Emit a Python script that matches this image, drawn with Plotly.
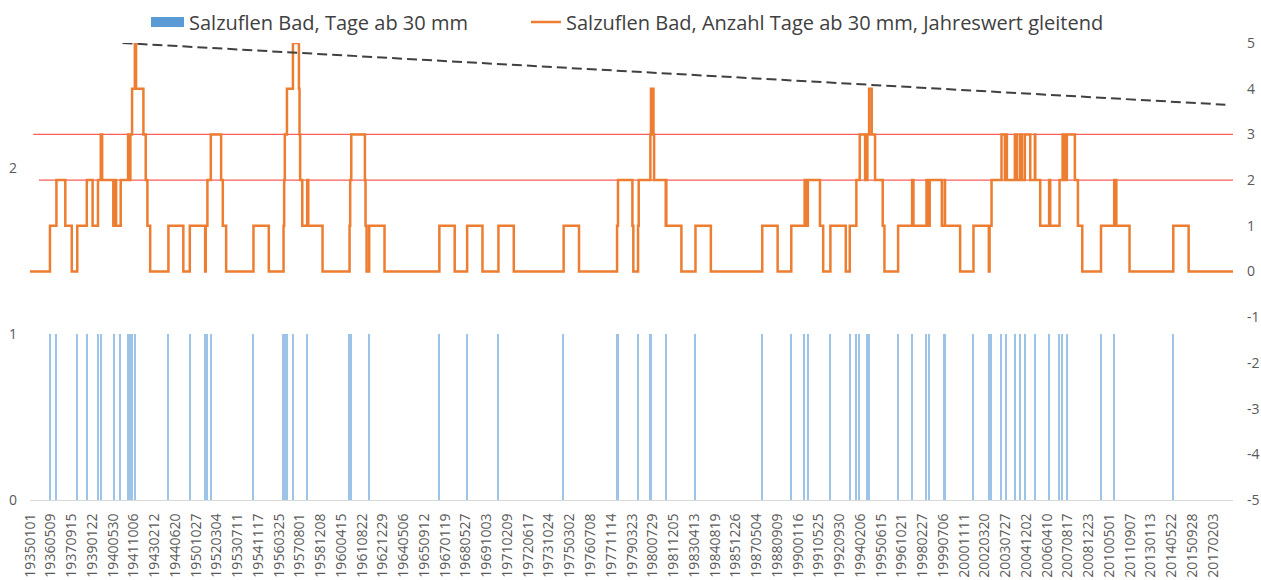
import plotly.graph_objects as go
import pandas as pd

# ---------------- data ----------------
tick_labels = [
    "19350101", "19360509", "19370915", "19390122", "19400530", "19411006", "19430212", "19440620",
    "19501027", "19520304", "19530711", "19541117", "19560325", "19570801", "19581208", "19600415",
    "19610822", "19621229", "19640506", "19650912", "19670119", "19680527", "19691003", "19710209",
    "19720617", "19731024", "19750302", "19760708", "19771114", "19790323", "19800729", "19811205",
    "19830413", "19840819", "19851226", "19870504", "19880909", "19900116", "19910525", "19920930",
    "19940206", "19950615", "19961021", "19980227", "19990706", "20001111", "20020320", "20030727",
    "20041202", "20060410", "20070817", "20081223", "20100501", "20110907", "20130113", "20140522",
    "20150928", "20170203",
]

# blue bars: days with >= 30 mm (decimal years)
event_years = [
    1936.30, 1936.72, 1938.08, 1938.70, 1939.43, 1939.61, 1940.52, 1940.91, 1941.39, 1941.54,
    1941.65, 1941.83, 1944.02,
    1950.41, 1951.45, 1951.56, 1951.78, 1954.56, 1956.52, 1956.56, 1956.60, 1956.74, 1957.13,
    1958.06, 1960.82, 1960.86, 1960.93, 1962.10, 1966.67, 1968.48, 1970.52, 1974.77, 1978.25,
    1978.31, 1979.62, 1979.66, 1980.42, 1980.46, 1981.44, 1983.36, 1987.71, 1989.60, 1990.47,
    1990.68, 1992.15, 1993.41, 1993.84, 1994.06, 1994.56, 1994.67, 1996.56, 1997.47, 1998.41,
    1998.62, 1999.60, 2001.47, 2002.52, 2002.65, 2003.30, 2003.63, 2004.17, 2004.50, 2004.82,
    2005.47, 2006.40, 2007.08, 2007.28, 2007.56, 2009.78, 2010.64, 2014.49,
]
event_values = [1] * len(event_years)

# orange step line: moving annual count, change points (decimal year, new level)
line_years = [
    1935.00, 1936.30, 1936.72, 1937.30, 1937.72, 1938.08, 1938.70, 1939.08, 1939.43, 1939.61,
    1939.70, 1940.43, 1940.52, 1940.61, 1940.91, 1941.39, 1941.52, 1941.54, 1941.65, 1941.83,
    1941.91, 1942.39, 1942.54, 1942.65, 1942.83, 1944.02, 1944.99,
    1950.41, 1951.41, 1951.45, 1951.56, 1951.78, 1952.45, 1952.56, 1952.78, 1954.56, 1955.56,
    1956.52, 1956.56, 1956.60, 1956.74, 1957.13, 1957.52, 1957.56, 1957.60, 1957.74, 1958.06,
    1958.13, 1959.06, 1960.82, 1960.86, 1960.93, 1961.82, 1961.86, 1961.93, 1962.10, 1963.10,
    1966.67, 1967.67, 1968.48, 1969.48, 1970.52, 1971.52, 1974.77, 1975.77, 1978.25, 1978.31,
    1979.25, 1979.31, 1979.62, 1979.66, 1980.42, 1980.46, 1980.62, 1980.66, 1981.42, 1981.44,
    1981.46, 1982.44, 1983.36, 1984.36, 1987.71, 1988.71, 1989.60, 1990.47, 1990.60, 1990.68,
    1991.47, 1991.68, 1992.15, 1993.15, 1993.41, 1993.84, 1994.06, 1994.41, 1994.56, 1994.67,
    1994.84, 1995.06, 1995.56, 1995.67, 1996.56, 1997.47, 1997.56, 1998.41, 1998.47, 1998.62,
    1999.41, 1999.60, 1999.62, 2000.60, 2001.47, 2002.47, 2002.52, 2002.65, 2003.30, 2003.52,
    2003.63, 2003.65, 2004.17, 2004.30, 2004.50, 2004.63, 2004.82, 2005.17, 2005.47, 2005.50,
    2005.82, 2006.40, 2006.47, 2007.08, 2007.28, 2007.40, 2007.56, 2008.08, 2008.28, 2008.56,
    2009.78, 2010.64, 2010.78, 2011.64, 2014.49, 2015.49,
]
line_levels = [
    0, 1, 2, 1, 0, 1, 2, 1, 2, 3,
    2, 1, 2, 1, 2, 3, 2, 3, 4, 5,
    4, 3, 2, 1, 0, 1, 0,
    1, 0, 1, 2, 3, 2, 1, 0, 1, 0,
    1, 2, 3, 4, 5, 4, 3, 2, 1, 2,
    1, 0, 1, 2, 3, 2, 1, 0, 1, 0,
    1, 0, 1, 0, 1, 0, 1, 0, 1, 2,
    1, 0, 1, 2, 3, 4, 3, 2, 1, 2,
    1, 0, 1, 0, 1, 0, 1, 2, 1, 2,
    1, 0, 1, 0, 1, 2, 3, 2, 3, 4,
    3, 2, 1, 0, 1, 2, 1, 2, 1, 2,
    1, 2, 1, 0, 1, 0, 1, 2, 3, 2,
    3, 2, 3, 2, 3, 2, 3, 2, 3, 2,
    1, 2, 1, 2, 3, 2, 3, 2, 1, 0,
    1, 2, 1, 0, 1, 0,
]

data_start = "1935-01-01"
data_end = "2018-05-20"
gap_start, gap_end = "1945-01-01", "1950-01-01"

threshold_levels = [3, 2]
threshold_starts = ["1935-03-20", "1935-08-01"]

trend_dates = ["1941-01-10", "2017-11-20"]
trend_values = [5.0, 3.65]

left_ticks = [0, 1, 2]
right_ticks = [-5, -4, -3, -2, -1, 0, 1, 2, 3, 4, 5]

bar_name = "Salzuflen Bad, Tage ab 30 mm"
line_name = "Salzuflen Bad, Anzahl Tage ab 30 mm, Jahreswert gleitend"


def to_date(y):
    year = int(y)
    base = pd.Timestamp(year=year, month=1, day=1)
    n = (pd.Timestamp(year=year + 1, month=1, day=1) - base).days
    return base + pd.Timedelta(days=int(round((y - year) * n)))


event_dates = [to_date(y) for y in event_years]
line_x = [to_date(y) for y in line_years] + [pd.Timestamp(data_end)]
line_y = list(line_levels) + [line_levels[-1]]
tick_dates = [pd.to_datetime(t, format="%Y%m%d") for t in tick_labels]

fig = go.Figure()

fig.add_trace(go.Bar(
    x=event_dates, y=event_values, width=36 * 86400000,
    marker=dict(color="#9DC3E6", line=dict(width=0)),
    showlegend=False, name=bar_name, yaxis="y",
))
# legend swatch for the bars
fig.add_trace(go.Scatter(
    x=[None], y=[None], mode="lines", line=dict(color="#5B9BD5", width=14),
    name=bar_name, legend="legend",
))

for lv, st in zip(threshold_levels, threshold_starts):
    fig.add_trace(go.Scatter(
        x=[st, data_end], y=[lv, lv], mode="lines",
        line=dict(color="rgba(255,40,40,0.75)", width=1.2),
        showlegend=False, yaxis="y2", hoverinfo="skip",
    ))

fig.add_trace(go.Scatter(
    x=line_x, y=line_y, mode="lines", line=dict(color="#ED7D31", width=2.5, shape="hv"),
    name=line_name, yaxis="y2", legend="legend2",
))

fig.add_trace(go.Scatter(
    x=trend_dates, y=trend_values, mode="lines",
    line=dict(color="#404040", width=2, dash="10px,5px"),
    showlegend=False, yaxis="y2", hoverinfo="skip",
))

font_family = "Open Sans, Noto Sans, sans-serif"
fig.update_layout(
    width=1261, height=580,
    margin=dict(l=30, r=28, t=43, b=80, autoexpand=False),
    paper_bgcolor="white", plot_bgcolor="white",
    font=dict(family=font_family, color="#595959"),
    xaxis=dict(
        type="date", range=[data_start, data_end],
        rangebreaks=[dict(bounds=[gap_start, gap_end])],
        tickmode="array", tickvals=tick_dates, ticktext=tick_labels,
        tickangle=-90, tickfont=dict(size=14, color="#595959"),
        showgrid=False, zeroline=False, showline=True, linecolor="#D9D9D9", linewidth=1,
        ticks="", automargin=False, ticklabelstandoff=7,
    ),
    yaxis=dict(
        range=[0, 2.753], tickvals=left_ticks, ticktext=[str(v) for v in left_ticks],
        showgrid=False, zeroline=False, automargin=False,
        tickfont=dict(size=14, color="#595959"), ticks="", ticklabelstandoff=12,
    ),
    yaxis2=dict(
        range=[-5, 5], tickvals=right_ticks, ticktext=[str(v) for v in right_ticks],
        overlaying="y", side="right", showgrid=False, automargin=False,
        zeroline=False, tickfont=dict(size=14, color="#595959"), ticks="", ticklabelstandoff=13,
    ),
    legend=dict(
        orientation="h", x=(146 - 30) / 1203, xanchor="left", y=1.046, yanchor="middle",
        font=dict(size=20, color="#404040"), itemwidth=33, bgcolor="rgba(0,0,0,0)",
    ),
    legend2=dict(
        orientation="h", x=(526 - 30) / 1203, xanchor="left", y=1.046, yanchor="middle",
        font=dict(size=20, color="#404040"), itemwidth=30, bgcolor="rgba(0,0,0,0)",
    ),
    bargap=0,
)

fig.write_html(
    "out.html",
    config={"displayModeBar": False},
    post_script="document.body.style.margin='0px';document.body.style.overflow='hidden';",
)
